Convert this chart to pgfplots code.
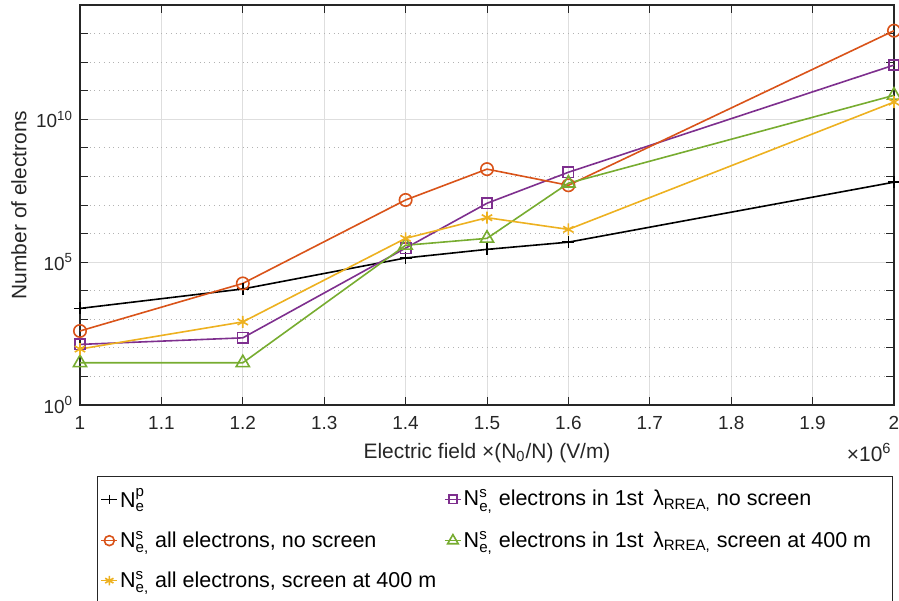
\documentclass[border=0pt]{standalone}
\usepackage{pgfplots}
\pgfplotsset{compat=1.18}
\usepackage{amsmath}
\usepackage{fontspec}
\setmainfont{Liberation Sans}
\definecolor{mblack}{rgb}{0,0,0}
\definecolor{morange}{rgb}{0.85,0.325,0.098}
\definecolor{myellow}{rgb}{0.929,0.694,0.125}
\definecolor{mpurple}{rgb}{0.494,0.184,0.556}
\definecolor{mgreen}{rgb}{0.466,0.674,0.188}
\definecolor{axgray}{rgb}{0.15,0.15,0.15}
\begin{document}
\begin{tikzpicture}
\begin{axis}[name=ax,
  width=407bp, height=200bp, scale only axis,
  xmin=1, xmax=2, ymode=log, log basis y=10, ymin=1, ymax=1e14,
  xtick={1,1.1,1.2,1.3,1.4,1.5,1.6,1.7,1.8,1.9,2},
  xticklabels={1,1.1,1.2,1.3,1.4,1.5,1.6,1.7,1.8,1.9,2},
  ytick={1,1e5,1e10},
  yticklabels={10\textsuperscript{0},10\textsuperscript{5},10\textsuperscript{10}},
  minor ytick={1e1,1e2,1e3,1e4,1e6,1e7,1e8,1e9,1e11,1e12,1e13},
  grid=both,
  major grid style={color=black!13, line width=0.5bp},
  minor grid style={color=black!30, line width=0.4bp, dotted},
  tick align=inside,
  major tick length=4bp, minor tick length=4bp,
  tick style={color=axgray, line width=0.5bp},
  axis line style={color=axgray, line width=0.6bp},
  /pgf/number format/assume math mode=true,
  tick label style={font=\fontsize{9.5}{11}\selectfont, color=axgray},
  label style={font=\fontsize{10.5}{12}\selectfont, color=axgray},
  xticklabel style={yshift=-2bp},
  xlabel={Electric field ×(N$_{\text{0}}$/N) (V/m)},
  ylabel={Number of electrons},
  xlabel style={yshift=0bp},
  ylabel style={yshift=-2bp},
  legend columns=2,
  legend image code/.code={\draw[mark repeat=2,mark phase=2,/tikz/every mark/.append style={scale=0.8}] plot coordinates {(0bp,0bp)(4bp,0bp)(8bp,0bp)};},
  legend style={at={(axis description cs:0.0209,-0.1775)}, anchor=north west,
    draw=axgray, line width=0.5bp, inner xsep=1.5bp, inner ysep=4bp,
    font=\fontsize{10.8}{13}\selectfont, text=black,
    cells={anchor=west}, row sep=6.5bp,
    nodes={inner xsep=1bp}},
]
\addplot[mblack, line width=0.8bp, mark=+, mark size=3bp] coordinates {(1,2400) (1.2,11500) (1.4,1.4e5) (1.5,2.8e5) (1.6,5e5) (2,6.3e7)};
\addlegendentry{\makebox[161bp][l]{N$_{\text{e}}^{\text{p}}$}}
\addplot[mpurple, line width=0.8bp, mark=square, mark size=2.6bp, mark options={solid}] coordinates {(1,132) (1.2,224) (1.4,3.1e5) (1.5,1.15e7) (1.6,1.4e8) (2,7.9e11)};
\addlegendentry{\makebox[212bp][l]{N$_{\text{e,}}^{\text{s}}$ electrons in 1st\, λ$_{\text{RREA,}}$ no screen}}
\addplot[morange, line width=0.8bp, mark=o, mark size=3.1bp] coordinates {(1,390) (1.2,1.8e4) (1.4,1.5e7) (1.5,1.8e8) (1.6,4.9e7) (2,1.26e13)};
\addlegendentry{\makebox[161bp][l]{N$_{\text{e,}}^{\text{s}}$ all electrons, no screen}}
\addplot[mgreen, line width=0.8bp, mark=triangle, mark size=3.8bp] coordinates {(1,30) (1.2,30) (1.4,3.9e5) (1.5,6.8e5) (1.6,5.8e7) (2,6.9e10)};
\addlegendentry{\makebox[212bp][l]{N$_{\text{e,}}^{\text{s}}$ electrons in 1st\, λ$_{\text{RREA,}}$ screen at 400 m}}
\addplot[myellow, line width=0.8bp, mark=asterisk, mark size=3bp] coordinates {(1,91) (1.2,810) (1.4,6.8e5) (1.5,3.6e6) (1.6,1.4e6) (2,4e10)};
\addlegendentry{\makebox[161bp][l]{N$_{\text{e,}}^{\text{s}}$ all electrons, screen at 400 m}}
\end{axis}
\node[anchor=north east, font=\fontsize{10.5}{12}\selectfont, text=axgray, inner sep=0pt] at ([yshift=-19bp,xshift=-1bp]ax.south east) {×10\textsuperscript{6}};
\pgfresetboundingbox
\path[use as bounding box] ([xshift=-40bp,yshift=-98bp]ax.south west) rectangle ([xshift=2.5bp,yshift=2.5bp]ax.north east);
\end{tikzpicture}
\end{document}
